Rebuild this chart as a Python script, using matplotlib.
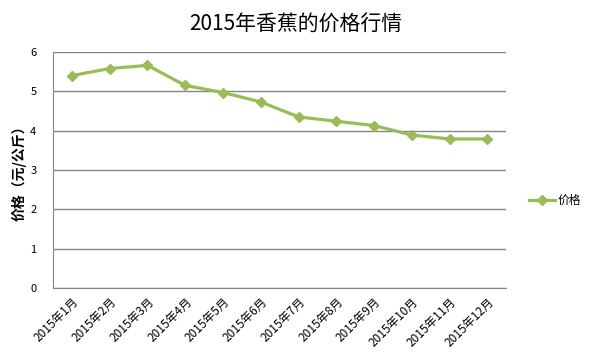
import matplotlib
matplotlib.use("Agg")
from matplotlib import pyplot as plt

plt.rcParams['font.family'] = ['Noto Sans CJK SC', 'DejaVu Sans']

# 数据
months = ['2015年1月', '2015年2月', '2015年3月', '2015年4月', '2015年5月', '2015年6月',
          '2015年7月', '2015年8月', '2015年9月', '2015年10月', '2015年11月', '2015年12月']
prices = [5.4, 5.58, 5.66, 5.15, 4.97, 4.73, 4.35, 4.24, 4.13, 3.89, 3.79, 3.79]

fig = plt.figure(figsize=(5.91, 3.61), dpi=100)
ax = fig.add_axes([0.0897, 0.202, 0.767, 0.654])

x = list(range(len(months)))
ax.plot(x, prices, color='#9BBB59', linewidth=2.3, marker='D', markersize=5.5,
        label='价格')

ax.set_xlim(-0.5, len(months) - 0.5)
ax.set_ylim(0, 6)
ax.set_yticks(range(0, 7))
ax.set_xticks(x)
ax.set_xticklabels(months, rotation=45, ha='right', rotation_mode='anchor', fontsize=8.5)
ax.tick_params(axis='y', labelsize=8, length=0, pad=12)
ax.tick_params(axis='x', length=0, pad=5)

ax.grid(axis='y', color='#868686', linewidth=1)
ax.set_axisbelow(True)
for s in ['top', 'right']:
    ax.spines[s].set_visible(False)
for s in ['left', 'bottom']:
    ax.spines[s].set_color('#868686')

ax.set_ylabel('价格（元/公斤）', fontsize=10, fontweight='bold')
ax.yaxis.set_label_coords(-0.058, 0.5)
fig.suptitle('2015年香蕉的价格行情', x=0.5, y=0.965, fontsize=15)

ax.legend(loc='center left', bbox_to_anchor=(0.885, 0.445), bbox_transform=fig.transFigure,
          frameon=False, fontsize=8.5, handlelength=2.2, handletextpad=0.2, borderpad=0)

fig.savefig('out.png', dpi=100)
